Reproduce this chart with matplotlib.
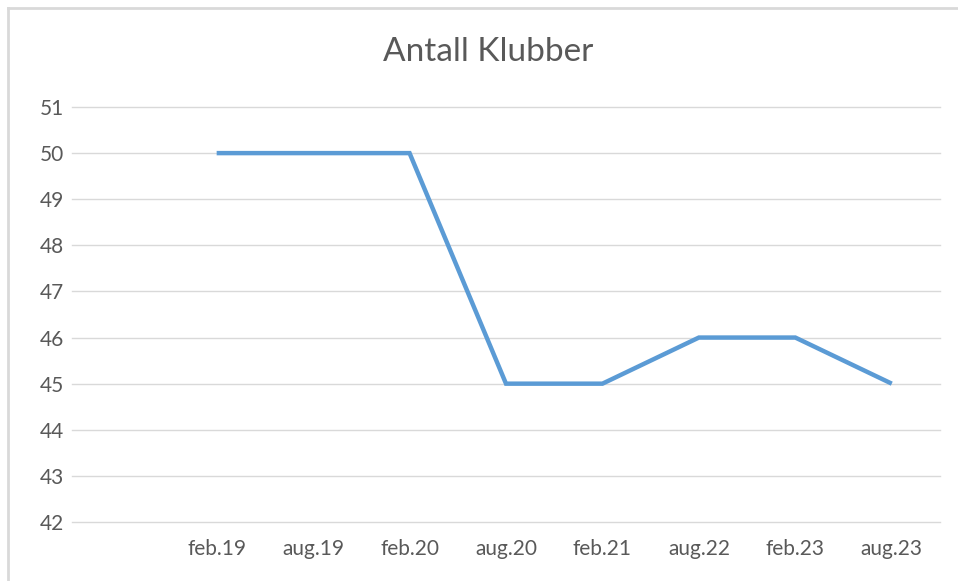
import numpy as np
import matplotlib
matplotlib.use("Agg")
import matplotlib.pyplot as plt
from matplotlib.lines import Line2D

# Data
categories = ["", "feb.19", "aug.19", "feb.20", "aug.20", "feb.21", "aug.22", "feb.23", "aug.23"]
klubber = [np.nan, 50, 50, 50, 45, 45, 46, 46, 45]
y_ticks = list(range(42, 52))

TEXT = "#595959"
GRID = "#D9D9D9"
LINE = "#5B9BD5"

plt.rcParams["font.family"] = ["Lato", "DejaVu Sans"]

fig = plt.figure(figsize=(9.58, 5.81), dpi=100)
ax = fig.add_axes([72 / 958, 1 - 522 / 581, (940 - 72) / 958, (522 - 107) / 581])

x = np.arange(len(categories))
ax.plot(x, klubber, color=LINE, lw=3.2, solid_joinstyle="miter", solid_capstyle="butt", zorder=3)

ax.set_xlim(-0.5, len(categories) - 0.5)
ax.set_ylim(42, 51)
ax.set_yticks(y_ticks)
ax.set_xticks(x)
ax.set_xticklabels(categories)
ax.grid(axis="y", color=GRID, lw=1)
for gl in ax.get_ygridlines():
    gl.set_clip_on(False)
ax.set_axisbelow(True)
for s in ax.spines.values():
    s.set_visible(False)
ax.tick_params(axis="both", length=0, colors=TEXT, labelsize=15)
ax.tick_params(axis="y", pad=6)
ax.tick_params(axis="x", pad=12)

fig.text(488 / 958, 1 - 52 / 581, "Antall Klubber", ha="center", va="center",
         fontsize=24, color=TEXT)

# frame of the chart area (screenshot edge)
fig.add_artist(Line2D([7.5 / 958, 7.5 / 958], [0, 1 - 7.5 / 581], color=GRID, lw=2))
fig.add_artist(Line2D([7.5 / 958, 1], [1 - 7.5 / 581, 1 - 7.5 / 581], color=GRID, lw=2))

fig.savefig("out.png", dpi=100)
